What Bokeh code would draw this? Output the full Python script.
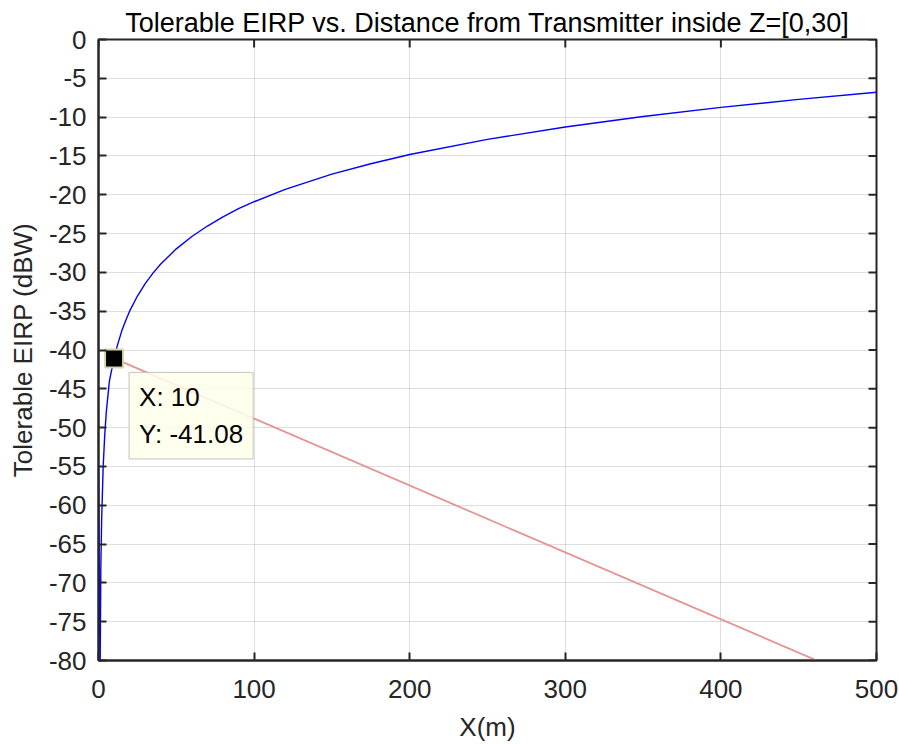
from bokeh.plotting import figure
from bokeh.models import FixedTicker, Range1d, Label
from bokeh.embed import file_html
from bokeh.resources import INLINE

# ---- text ----
title_text = "Tolerable EIRP vs. Distance from Transmitter inside Z=[0,30]"
x_label = "X(m)"
y_label = "Tolerable EIRP (dBW)"

# ---- data ----
dist_m = [0, 1.0, 1.5, 2, 3, 4, 5, 6, 7, 8, 10, 12, 15, 17.5, 20, 25, 30, 35, 40,
          50, 60, 70, 80, 90, 100, 120, 150, 175, 200, 250, 300, 350, 400, 450, 500]
eirp_dbw = [-55, -82, -68, -62, -55, -51, -48, -46, -44, -43, -41.08, -39.5, -37.5,
            -36.2, -35.0, -33.05, -31.45, -30.1, -28.93, -26.97, -25.38, -24.03,
            -22.85, -21.8, -20.9, -19.3, -17.35, -16.0, -14.82, -12.87, -11.27,
            -9.92, -8.75, -7.72, -6.79]

# data tip
tip_x = 10
tip_y = -41.08
# end point of the tip's leader line (runs off the axes)
leader_end_x = 515
leader_end_y = -84.6

x_ticks = [0, 100, 200, 300, 400, 500]
y_ticks = [0, -5, -10, -15, -20, -25, -30, -35, -40, -45, -50, -55, -60, -65, -70, -75, -80]
x_tick_labels = ["0", "100", "200", "300", "400", "500"]
y_tick_labels = ["0", "-5", "-10", "-15", "-20", "-25", "-30", "-35", "-40", "-45",
                 "-50", "-55", "-60", "-65", "-70", "-75", "-80"]

FONT = "Liberation Sans"
DARK = "#262626"

X0, X1 = 0, 500
Y0, Y1 = -80, 0
W, H = 899, 744
BL, BR, BT, BB = 98, 23, 39, 83

p = figure(width=W, height=H, x_range=Range1d(X0, X1), y_range=Range1d(Y0, Y1),
           output_backend="svg", toolbar_location=None,
           min_border_left=BL, min_border_right=BR, min_border_top=BT, min_border_bottom=BB)
p.outline_line_color = DARK
p.outline_line_width = 2
p.background_fill_color = "white"
p.border_fill_color = "white"

p.title.text = title_text
p.title.align = "center"
p.title.text_font = FONT
p.title.text_font_size = "27px"
p.title.text_font_style = "normal"
p.title.text_color = "#000000"
p.title.standoff = 4

xt = FixedTicker(ticks=x_ticks)
yt = FixedTicker(ticks=y_ticks)
bottom = p.below[0]
left = p.left[0]
bottom.ticker = xt
left.ticker = yt
bottom.major_label_overrides = {t: s for t, s in zip(x_ticks, x_tick_labels)}
left.major_label_overrides = {t: s for t, s in zip(y_ticks, y_tick_labels)}

for ax in [bottom, left]:
    ax.axis_line_color = DARK
    ax.axis_line_width = 2
    ax.major_tick_line_color = DARK
    ax.major_tick_line_width = 2
    ax.major_tick_in = 8
    ax.major_tick_out = 0
    ax.minor_tick_line_color = None
    ax.major_label_text_font = FONT
    ax.major_label_text_font_size = "26px"
    ax.major_label_text_color = DARK
    ax.axis_label_text_font = FONT
    ax.axis_label_text_font_size = "26px"
    ax.axis_label_text_color = DARK
    ax.axis_label_text_font_style = "normal"

bottom.axis_label = x_label
left.axis_label = y_label
bottom.major_label_standoff = 19
bottom.axis_label_standoff = 11
left.major_label_standoff = 12
left.axis_label_standoff = 8

p.xgrid.ticker = xt
p.ygrid.ticker = yt
p.grid.grid_line_color = DARK
p.grid.grid_line_alpha = 0.15
p.grid.grid_line_width = 1

# tick marks on the top and right edges (8 px long, pointing inward)
frame_w = W - BL - BR
frame_h = H - BT - BB
tick_dy = 8 * (Y1 - Y0) / frame_h
tick_dx = 8 * (X1 - X0) / frame_w
p.segment(x0=x_ticks, y0=[Y1] * len(x_ticks), x1=x_ticks, y1=[Y1 - tick_dy] * len(x_ticks),
          line_color=DARK, line_width=2)
p.segment(x0=[X1] * len(y_ticks), y0=y_ticks, x1=[X1 - tick_dx] * len(y_ticks), y1=y_ticks,
          line_color=DARK, line_width=2)

# curve
p.line(dist_m, eirp_dbw, line_color="#0000ff", line_width=1.4)

# data tip box
tip = Label(x=tip_x, y=tip_y, x_offset=15, y_offset=-14, anchor="top_left",
            text=f"X: {tip_x:g}\nY: {tip_y:.2f}", text_font=FONT, text_font_size="26px",
            text_color="#000000", text_line_height=1.22, padding=10,
            background_fill_color="#ffffeb", background_fill_alpha=0.85,
            border_line_color="#c4c4c4", border_line_width=1)
p.add_layout(tip)

# leader line from the data tip
p.line([tip_x, leader_end_x], [tip_y, leader_end_y], line_color="#e69393", line_width=1.8)

p.scatter([tip_x], [tip_y], marker="square", size=18, fill_color="#000000",
          line_color="#d6d6a8", line_width=2)

open("out.html", "w").write(file_html(p, INLINE))
